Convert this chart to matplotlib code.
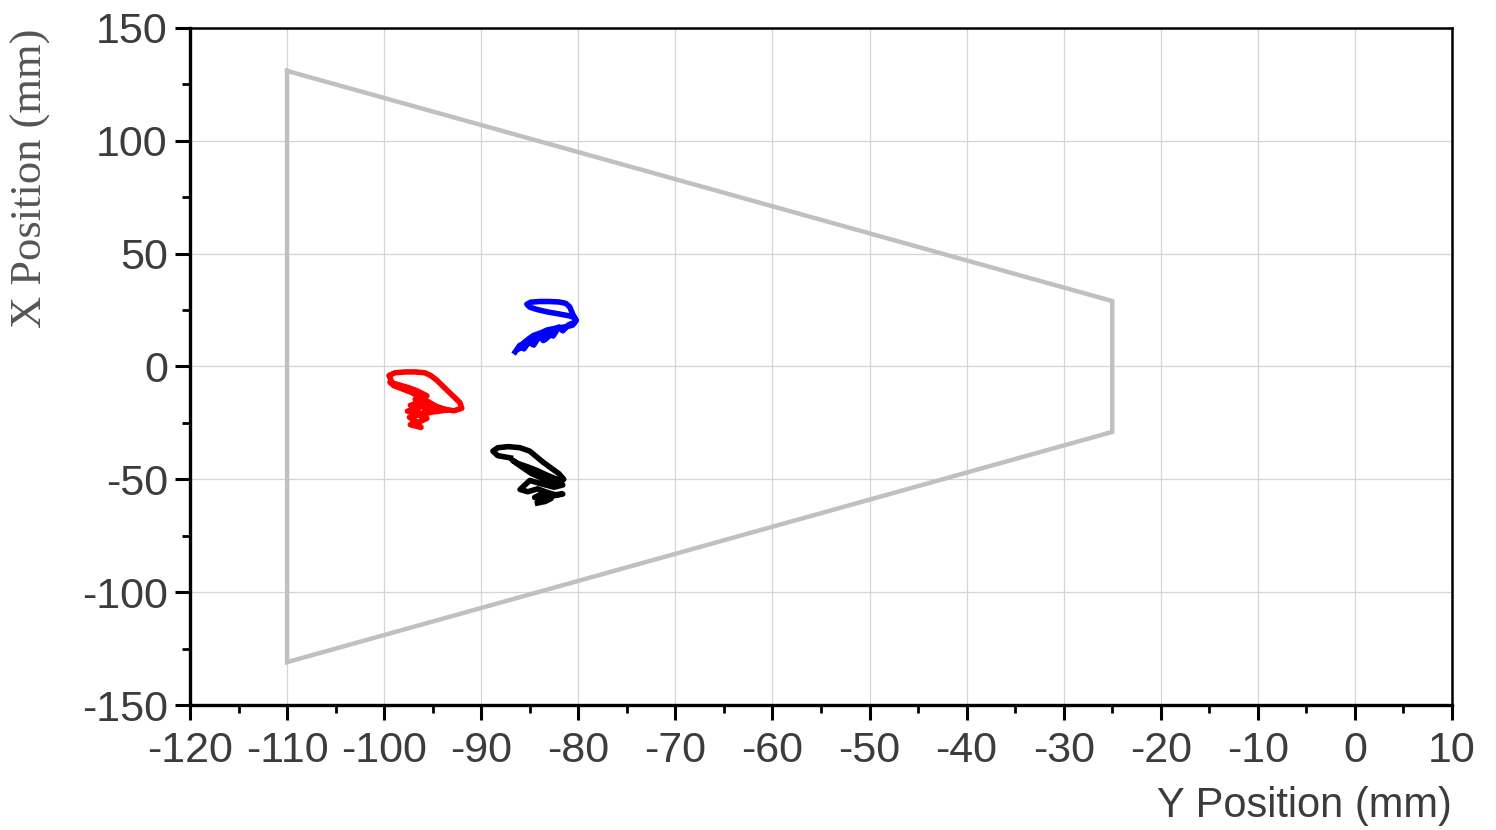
import matplotlib
matplotlib.use("Agg")
import matplotlib.pyplot as plt
from matplotlib.ticker import MultipleLocator

# Workspace boundary (trapezoid)
boundary_y = [-110, -25, -25, -110, -110]
boundary_x = [131, 29, -29, -131, 131]

# Blue trajectory
blue_y = [-86.5, -86.0, -85.6, -85.0, -84.6, -84.0, -83.6, -83.0, -82.6, -82.0, -81.6,
          -81.0, -80.4, -80.2, -80.4, -81.0, -82.0, -83.2, -84.3, -85.0, -85.3, -84.9,
          -84.0, -83.0, -82.0, -81.3, -80.9, -80.7, -80.5, -80.3, -80.6, -81.4, -82.3,
          -83.2, -83.8, -84.6, -85.1, -85.6, -86.2, -85.4, -84.8, -84.0, -83.4, -82.5,
          -83.0, -84.0, -85.0, -86.0]
blue_x = [6.5, 9.5, 7.8, 11.5, 9.5, 13.5, 11.5, 15.5, 13.5, 17.5, 15.8,
          18.5, 19.5, 20.5, 21.8, 22.5, 23.3, 24.2, 25.3, 26.3, 27.6, 28.5,
          28.8, 28.8, 28.6, 28.0, 26.5, 24.5, 22.5, 20.0, 18.3, 17.5, 17.0,
          16.2, 15.0, 13.8, 12.3, 10.5, 8.0, 11.0, 10.0, 13.0, 12.0, 15.5,
          14.8, 13.0, 10.8, 8.2]

# Red trajectory
red_y = [-99.3, -99.5, -98.9, -97.8, -96.8, -95.8, -95.2, -94.6, -94.0, -93.4, -92.8,
         -92.2, -92.0, -92.8, -93.8, -94.7, -95.5, -96.3, -97.2, -98.2, -99.0, -99.4,
         -98.6, -97.4, -96.5, -95.6, -96.8, -96.0, -97.3, -96.4, -97.6, -96.2, -97.4,
         -96.8, -97.3, -96.2, -96.6, -95.6, -96.0, -94.8, -95.4, -94.2, -93.5, -94.6,
         -95.8, -96.8, -97.0, -96.2, -95.4]
red_x = [-6.0, -4.0, -2.8, -2.4, -2.4, -2.8, -4.0, -6.0, -8.5, -11.0, -13.5,
         -16.0, -18.5, -19.6, -19.0, -17.5, -15.5, -13.5, -11.5, -9.8, -8.5, -7.0,
         -8.0, -9.5, -11.0, -13.0, -14.5, -16.0, -17.2, -18.5, -19.8, -21.0, -22.5,
         -24.0, -25.8, -27.0, -25.0, -23.0, -21.0, -20.0, -19.0, -18.5, -19.2, -20.0,
         -18.0, -16.0, -20.5, -22.0, -17.0]

# Black trajectory
black_y = [-87.0, -88.3, -88.8, -88.3, -87.2, -86.0, -85.0, -84.3, -83.6, -82.8, -82.0,
           -81.5, -82.2, -83.5, -84.8, -86.0, -86.8, -86.2, -85.2, -84.3, -83.3, -82.2,
           -81.6, -82.5, -83.8, -85.0, -86.0, -85.2, -84.2, -83.2, -82.4, -81.6, -82.8,
           -83.6, -84.5, -83.8, -82.8, -83.4, -84.2]
black_x = [-40.5, -39.5, -37.5, -36.0, -35.5, -36.0, -37.5, -40.0, -42.5, -45.0, -47.5,
           -50.0, -52.0, -50.0, -47.5, -44.0, -41.5, -43.0, -44.5, -46.0, -48.0, -50.0,
           -52.5, -53.5, -52.0, -50.5, -54.5, -55.5, -54.2, -55.8, -56.8, -56.5, -57.5,
           -59.0, -58.0, -56.5, -58.5, -59.8, -60.5]

x_ticks = list(range(-120, 11, 10))
y_ticks = list(range(-150, 151, 50))

fig = plt.figure(figsize=(14.96, 8.30), dpi=100)
ax = fig.add_axes([190 / 1496, 1 - 705 / 830, (1452 - 190) / 1496, (705 - 28) / 830])

ax.plot(boundary_y, boundary_x, color="#c0c0c0", lw=3.2, solid_joinstyle="miter", zorder=2)
ax.plot(blue_y, blue_x, color="#0000ff", lw=4.0, zorder=3)
ax.plot(red_y, red_x, color="#ff0000", lw=4.0, zorder=3)
ax.plot(black_y, black_x, color="#000000", lw=4.0, zorder=3)

ax.set_xlim(-120, 10)
ax.set_ylim(-150, 150)
ax.set_xticks(x_ticks)
ax.set_yticks(y_ticks)
ax.xaxis.set_minor_locator(MultipleLocator(5))
ax.yaxis.set_minor_locator(MultipleLocator(25))
ax.grid(True, which="major", color="#d4d4d4", lw=0.9, zorder=0)
ax.set_axisbelow(True)

tick_font = dict(family=["Liberation Sans", "DejaVu Sans"], size=31)
ax.set_xticklabels([str(v) for v in x_ticks], **tick_font, color="#3c3c3c")
ax.set_yticklabels([str(v) for v in y_ticks], **tick_font, color="#3c3c3c")
ax.tick_params(which="major", direction="out", length=11, width=2.2, color="black")
ax.tick_params(which="minor", direction="out", length=6, width=2.0, color="black")
ax.tick_params(axis="x", which="major", pad=8)
ax.tick_params(axis="y", which="major", pad=5)

for side in ["left", "bottom"]:
    ax.spines[side].set_linewidth(2.4)
for side in ["top", "right"]:
    ax.spines[side].set_linewidth(1.8)

ax.set_xlabel("Y Position (mm)", family=["Liberation Sans", "DejaVu Sans"], size=30,
              color="#3c3c3c")
ax.xaxis.set_label_coords(1.0, -0.12)
ax.xaxis.label.set_horizontalalignment("right")
ax.set_ylabel("X Position (mm)", family=["Liberation Serif", "DejaVu Serif"], size=32,
              color="#555555")
ax.yaxis.set_label_coords(-0.11, 0.778)

fig.savefig("out.png", dpi=100)
